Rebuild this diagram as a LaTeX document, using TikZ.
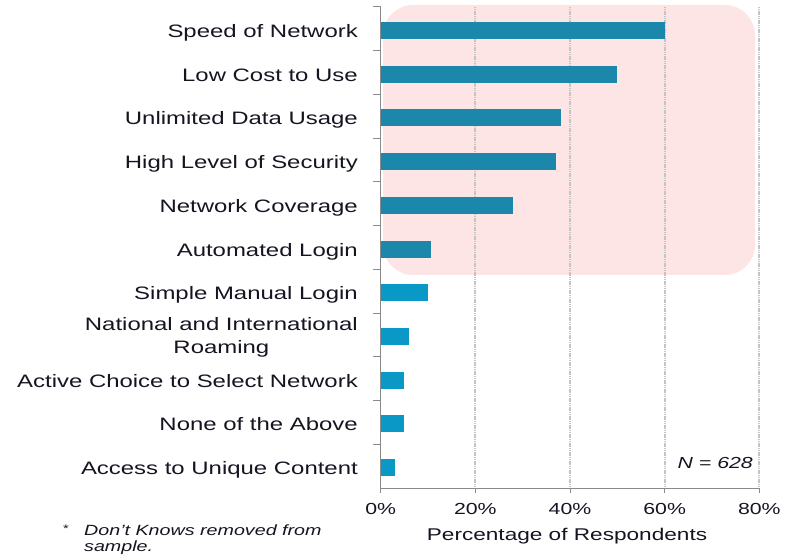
\documentclass[tikz,border=0pt]{standalone}
\usepackage{fontspec}
\setmainfont[FakeStretch=1.33]{Liberation Sans}
\definecolor{pinkbg}{HTML}{FDE4E5}
\definecolor{bardark}{HTML}{1B87AB}
\definecolor{barlight}{HTML}{0A99C6}
\definecolor{gridc}{HTML}{C4C4C4}
\definecolor{axisc}{HTML}{8A8A8A}
\definecolor{txt}{HTML}{151522}
\tikzset{
  catlabel/.style={anchor=base east, inner sep=0pt, text=txt, font=\fontsize{18}{23}\selectfont},
  ticklabel/.style={anchor=center, inner sep=0pt, text=txt, font=\fontsize{16}{18}\selectfont},
  gridline/.style={draw=gridc, line width=2pt, dash pattern=on 1.2pt off 0.6pt},
  axisline/.style={draw=axisc, line width=1pt},
}
\begin{document}
\begin{tikzpicture}[x=1pt,y=-1pt]
\useasboundingbox (0,0) rectangle (796,556);
% highlight box
\fill[pinkbg, rounded corners=30pt] (383,5) rectangle (755,275);
% gridlines
\foreach \p in {20,40,60,80}
  \draw[gridline] ({380.7+\p*4.733},7) -- ({380.7+\p*4.733},488);
% bars
\foreach \v [count=\i from 0] in {60,50,38,37,28,10.7,10,6,5,5,3}{
  \pgfmathsetmacro{\c}{7+43.73*(\i+0.5)+1.5}
  \ifnum\i<6
    \fill[bardark] (380.7,\c-8.5) rectangle ({380.7+\v*4.733},\c+8.5);
  \else
    \fill[barlight] (380.7,\c-8.5) rectangle ({380.7+\v*4.733},\c+8.5);
  \fi
}
% axes
\draw[axisline] (380.7,7) -- (380.7,488) -- (759.3,488);
\foreach \k in {0,...,10}
  \draw[axisline] (373,{7+43.73*\k}) -- (380.7,{7+43.73*\k});
\foreach \p in {0,20,40,60,80}
  \draw[axisline] ({380.7+\p*4.733},488) -- ({380.7+\p*4.733},493);
% category labels
\foreach \t/\i in {Speed of Network/0, Low Cost to Use/1, Unlimited Data Usage/2, High Level of Security/3, Network Coverage/4, Automated Login/5, Simple Manual Login/6, Active Choice to Select Network/8, None of the Above/9, Access to Unique Content/10}{
  \pgfmathsetmacro{\c}{7+43.73*(\i+0.5)+1.5+7}
  \node[catlabel] (cat\i) at (358,\c) {\t};
}
\node[catlabel, anchor=east, align=center] (cat7) at (358,337) {National and International\\Roaming};
% tick labels
\foreach \p in {0,20,40,60,80}
  \node[ticklabel] (tick\p) at ({380.7+\p*4.733},509) {\p\%};
\node[ticklabel, anchor=base, font=\fontsize{17}{19}\selectfont] (xtitle) at (567,540) {Percentage of Respondents};
\node[ticklabel, anchor=east, font=\fontsize{16}{18}\itshape] (nlabel) at (753,463) {N = 628};
% footnote
\node[anchor=center, inner sep=0pt, text=txt, font=\fontsize{11}{12}\selectfont] (star) at (66,529) {*};
\node[anchor=north west, inner sep=0pt, align=left, text=txt, font=\fontsize{14.8}{16}\itshape] (foot) at (84,525) {Don't Knows removed from\\sample.};
\end{tikzpicture}
\end{document}
